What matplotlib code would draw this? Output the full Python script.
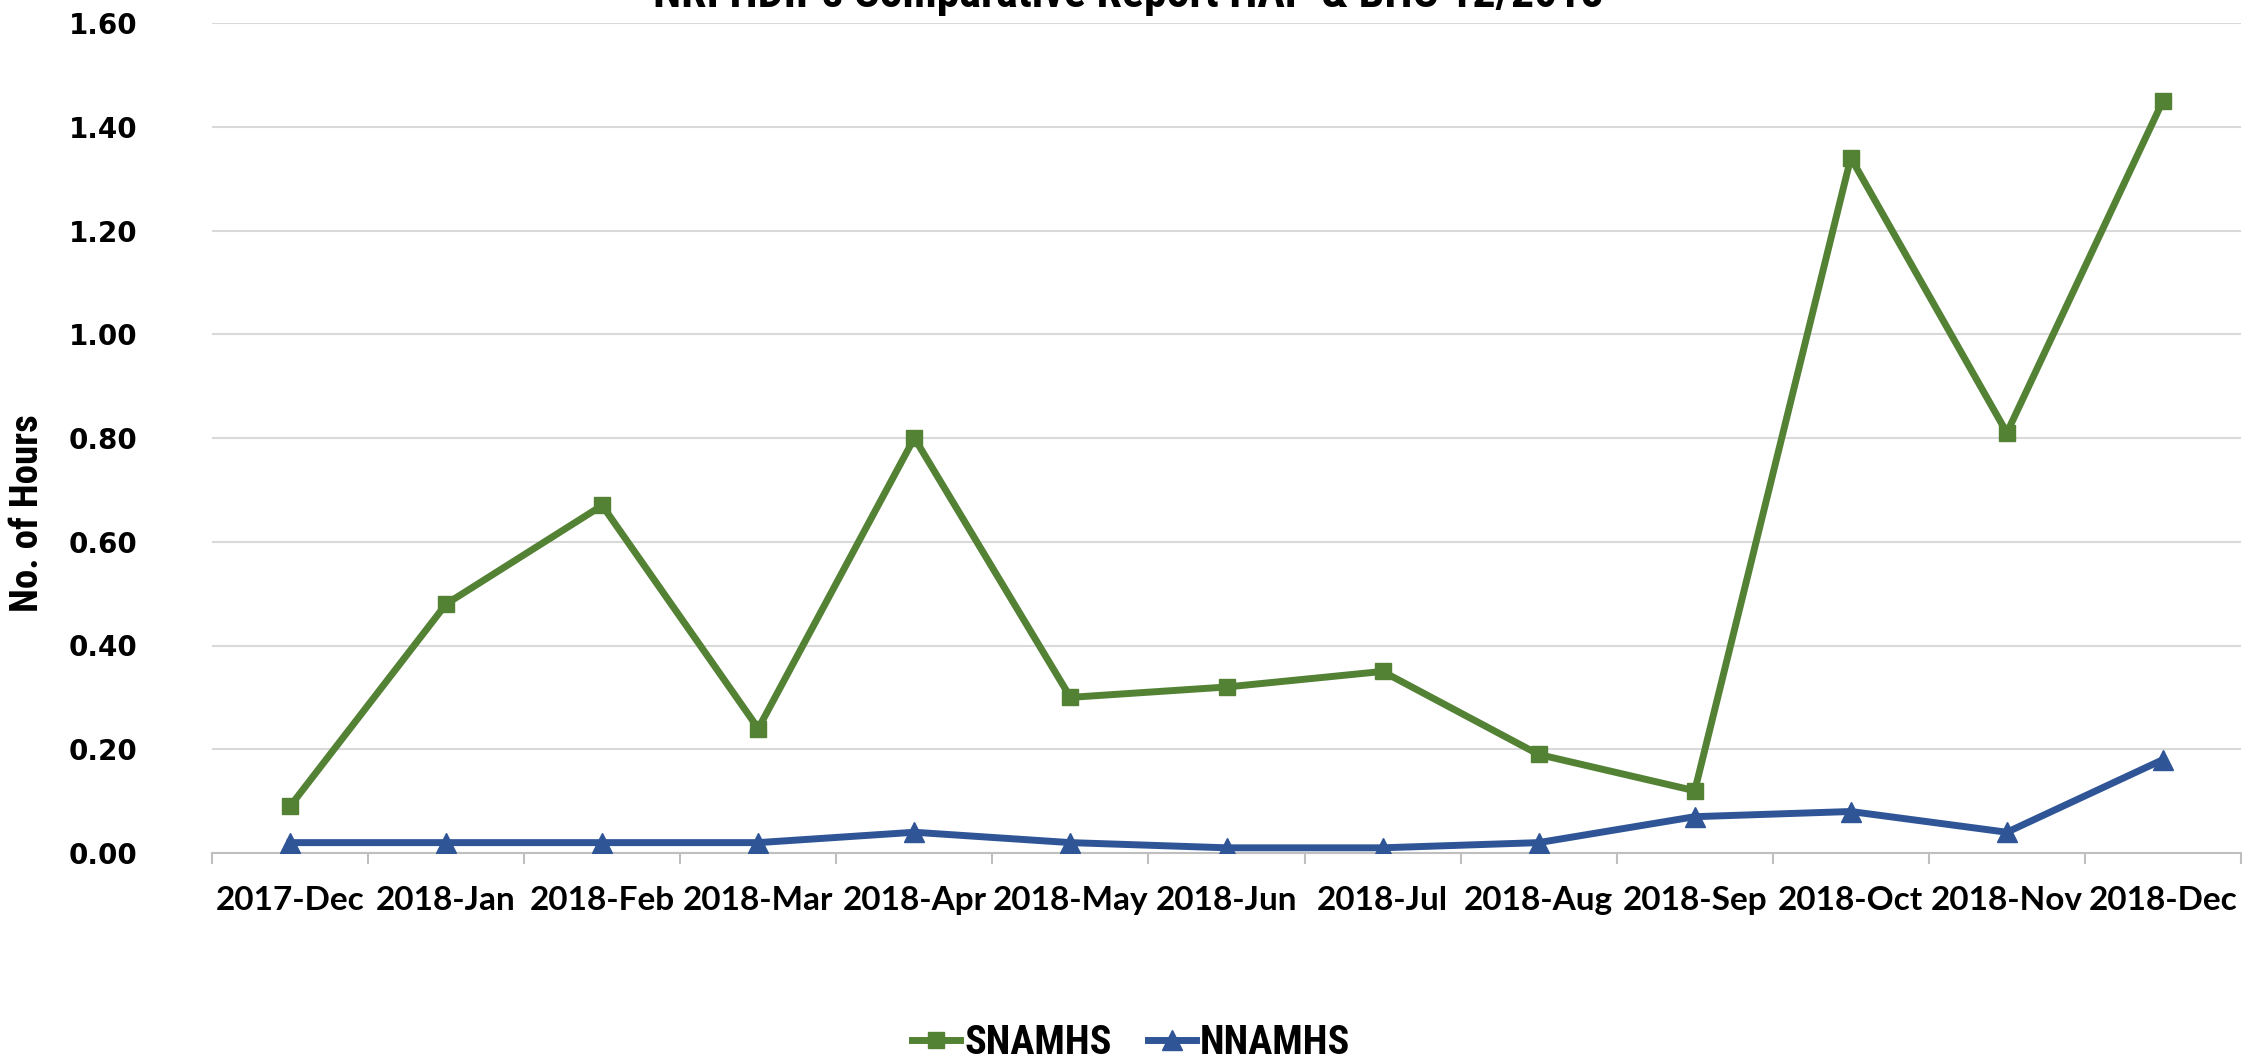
import matplotlib
matplotlib.use("Agg")
import matplotlib.pyplot as plt
from matplotlib import font_manager
import numpy as np

categories = ["2017-Dec", "2018-Jan", "2018-Feb", "2018-Mar", "2018-Apr", "2018-May",
              "2018-Jun", "2018-Jul", "2018-Aug", "2018-Sep", "2018-Oct", "2018-Nov", "2018-Dec"]
snamhs = [0.09, 0.48, 0.67, 0.24, 0.80, 0.30, 0.32, 0.35, 0.19, 0.12, 1.34, 0.81, 1.45]
nnamhs = [0.02, 0.02, 0.02, 0.02, 0.04, 0.02, 0.01, 0.01, 0.02, 0.07, 0.08, 0.04, 0.18]
yticks = [0.0, 0.2, 0.4, 0.6, 0.8, 1.0, 1.2, 1.4, 1.6]
title = "NRI HDIPs Comparative Report HAP & BHC 12/2018"

green = "#548235"
blue = "#2F5597"
names = {f.name for f in font_manager.fontManager.ttflist}
narrow = [n for n in ["Roboto Condensed", "Open Sans Condensed", "Liberation Sans Narrow",
                      "Arial Narrow"] if n in names] + ["Lato", "DejaVu Sans"]

fig = plt.figure(figsize=(22.58, 10.63), dpi=100)
ax = fig.add_axes([212/2258, 1 - 853/1063, (2241-212)/2258, (853-23)/1063])

x = np.arange(len(categories))
ax.plot(x, snamhs, color=green, lw=5, marker="s", ms=12, label="SNAMHS", zorder=3)
ax.plot(x, nnamhs, color=blue, lw=5, marker="^", ms=14, label="NNAMHS", zorder=3)

ax.set_xlim(-0.5, len(categories) - 0.5)
ax.set_ylim(0, 1.6)
ax.set_yticks(yticks)
ax.set_yticklabels([f"{v:.2f}" for v in yticks], fontsize=20, fontweight="bold",
                   family="DejaVu Sans")
ax.set_xticks(x)
ax.set_xticklabels(categories, fontsize=24, fontweight="bold", family="Lato")
ax.set_xticks(np.arange(-0.5, len(categories), 1), minor=True)
ax.tick_params(axis="x", which="major", length=0, pad=24)
ax.tick_params(axis="x", which="minor", length=8, color="#BFBFBF", width=1.5)
ax.tick_params(axis="y", length=0, pad=54)
ax.grid(axis="y", color="#D9D9D9", lw=1.5)
ax.set_axisbelow(True)
for s in ["top", "right", "left"]:
    ax.spines[s].set_visible(False)
ax.spines["bottom"].set_color("#BFBFBF")
ax.spines["bottom"].set_linewidth(1.5)

fig.text(28/2258, 1 - 513/1063, "No. of Hours", rotation=90, ha="center", va="center",
         fontsize=28, fontweight="bold", family=narrow)
fig.text(1128/2258, 1 - 7/1063, title, ha="center", va="baseline",
         fontsize=33, fontweight="bold", family=narrow)

leg = fig.legend(loc="center", bbox_to_anchor=(1131/2258, 1 - 1043/1063), ncol=2,
                 frameon=False, prop={"family": narrow, "weight": "bold", "size": 29},
                 handlelength=1.2, columnspacing=0.9, handletextpad=0.1)

fig.savefig("out.png", dpi=100)
